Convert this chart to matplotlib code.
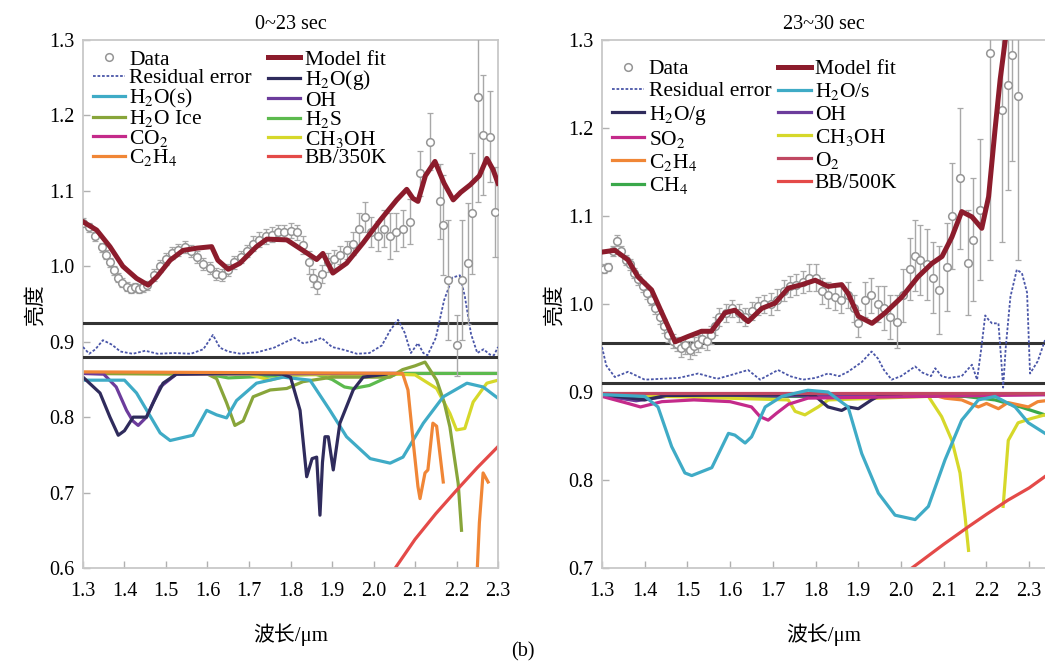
import numpy as np
import matplotlib
matplotlib.use("Agg")
from matplotlib import pyplot as plt

plt.rcParams['font.family'] = ['Liberation Serif', 'Noto Sans CJK SC']
plt.rcParams['mathtext.fontset'] = 'stix'

# ---------------- left panel: 0~23 sec ----------------
data_l_x = [1.300, 1.315, 1.330, 1.345, 1.355, 1.365, 1.375, 1.385, 1.395, 1.405,
            1.415, 1.425, 1.435, 1.445, 1.455, 1.470, 1.485, 1.500, 1.515, 1.530,
            1.545, 1.560, 1.575, 1.590, 1.605, 1.620, 1.635, 1.650, 1.665, 1.680,
            1.695, 1.710, 1.725, 1.740, 1.755, 1.770, 1.785, 1.800, 1.815, 1.830,
            1.845, 1.855, 1.865, 1.875, 1.890, 1.905, 1.920, 1.935, 1.950, 1.965,
            1.980, 1.995, 2.010, 2.025, 2.040, 2.055, 2.072, 2.088, 2.112, 2.136,
            2.160, 2.167, 2.180, 2.200, 2.212, 2.228, 2.237, 2.252, 2.264, 2.281,
            2.293]
data_l_y = [1.058, 1.052, 1.040, 1.025, 1.015, 1.005, 0.995, 0.985, 0.978, 0.973,
            0.970, 0.972, 0.970, 0.972, 0.975, 0.988, 1.000, 1.010, 1.018, 1.022,
            1.025, 1.020, 1.012, 1.003, 0.998, 0.990, 0.988, 0.995, 1.005, 1.012,
            1.020, 1.030, 1.035, 1.040, 1.042, 1.045, 1.045, 1.047, 1.045, 1.028,
            1.005, 0.985, 0.975, 0.990, 1.005, 1.010, 1.015, 1.022, 1.030, 1.050,
            1.065, 1.045, 1.040, 1.050, 1.040, 1.045, 1.050, 1.059, 1.123, 1.165,
            1.086, 1.055, 0.982, 0.895, 0.982, 1.004, 1.070, 1.225, 1.174, 1.172,
            1.072]
data_l_err = [0.006, 0.006, 0.006, 0.006, 0.006, 0.006, 0.006, 0.006, 0.006, 0.006,
              0.006, 0.006, 0.006, 0.006, 0.006, 0.008, 0.008, 0.008, 0.008, 0.008,
              0.008, 0.008, 0.008, 0.008, 0.008, 0.008, 0.008, 0.008, 0.008, 0.008,
              0.008, 0.010, 0.010, 0.010, 0.010, 0.010, 0.010, 0.010, 0.010, 0.012,
              0.015, 0.012, 0.012, 0.012, 0.012, 0.012, 0.012, 0.012, 0.015, 0.020,
              0.020, 0.020, 0.020, 0.025, 0.030, 0.025, 0.025, 0.030, 0.030, 0.038,
              0.050, 0.066, 0.080, 0.040, 0.080, 0.080, 0.080, 0.140, 0.080, 0.060,
              0.060]

fit_l_x = [1.300, 1.333, 1.365, 1.396, 1.429, 1.457, 1.478, 1.510, 1.541, 1.574,
           1.610, 1.625, 1.650, 1.678, 1.718, 1.743, 1.791, 1.830, 1.863, 1.878,
           1.902, 1.935, 1.975, 2.016, 2.056, 2.080, 2.095, 2.107, 2.125, 2.148,
           2.170, 2.192, 2.210, 2.233, 2.255, 2.273, 2.288, 2.300]
fit_l_y = [1.059, 1.048, 1.026, 1.000, 0.984, 0.975, 0.986, 1.008, 1.021, 1.024,
           1.026, 1.008, 0.996, 1.004, 1.026, 1.036, 1.035, 1.021, 1.009, 1.017,
           0.991, 1.004, 1.031, 1.061, 1.088, 1.102, 1.090, 1.086, 1.120, 1.139,
           1.110, 1.088, 1.098, 1.108, 1.120, 1.143, 1.128, 1.110]

resid_l_x = [1.300, 1.315, 1.330, 1.348, 1.370, 1.390, 1.420, 1.450, 1.480, 1.520,
             1.560, 1.590, 1.613, 1.630, 1.650, 1.680, 1.720, 1.760, 1.790, 1.810,
             1.830, 1.850, 1.875, 1.900, 1.930, 1.960, 1.990, 2.020, 2.040, 2.059,
             2.075, 2.090, 2.107, 2.120, 2.130, 2.150, 2.170, 2.190, 2.208, 2.220,
             2.235, 2.250, 2.265, 2.280, 2.290, 2.300]
resid_l_y = [0.893, 0.884, 0.890, 0.902, 0.896, 0.887, 0.884, 0.888, 0.884, 0.885,
             0.884, 0.890, 0.909, 0.892, 0.887, 0.884, 0.886, 0.892, 0.900, 0.905,
             0.898, 0.900, 0.905, 0.893, 0.889, 0.884, 0.885, 0.895, 0.915, 0.929,
             0.912, 0.885, 0.898, 0.885, 0.882, 0.905, 0.955, 0.985, 0.988, 0.960,
             0.910, 0.885, 0.890, 0.883, 0.882, 0.893]
hlines_l = [0.925, 0.880]

h2og_l_x = [1.300, 1.341, 1.365, 1.385, 1.400, 1.421, 1.453, 1.470, 1.493, 1.525,
            1.600, 1.700, 1.780, 1.800, 1.823, 1.839, 1.852, 1.863, 1.871, 1.877,
            1.883, 1.891, 1.903, 1.919, 1.951, 1.975, 2.030]
h2og_l_y = [0.853, 0.832, 0.800, 0.776, 0.782, 0.800, 0.800, 0.820, 0.845, 0.857,
            0.858, 0.858, 0.857, 0.853, 0.809, 0.721, 0.745, 0.747, 0.670, 0.740,
            0.774, 0.774, 0.730, 0.792, 0.836, 0.853, 0.857]
oh_l_x = [1.300, 1.350, 1.380, 1.405, 1.420, 1.433, 1.453, 1.486, 1.525, 2.050]
oh_l_y = [0.858, 0.857, 0.840, 0.809, 0.795, 0.789, 0.800, 0.840, 0.857, 0.858]
h2os_l_x = [1.300, 1.400, 1.429, 1.486, 1.510, 1.565, 1.598, 1.622, 1.646, 1.670,
            1.718, 1.782, 1.847, 1.895, 1.935, 1.992, 2.040, 2.071, 2.120, 2.168,
            2.225, 2.264, 2.300]
h2os_l_y = [0.849, 0.849, 0.832, 0.779, 0.769, 0.776, 0.809, 0.803, 0.799, 0.822,
            0.845, 0.853, 0.849, 0.809, 0.774, 0.745, 0.739, 0.747, 0.792, 0.827,
            0.845, 0.840, 0.825]
ice_l_x = [1.300, 1.600, 1.622, 1.646, 1.666, 1.686, 1.710, 1.751, 1.791, 1.830,
           1.900, 2.040, 2.070, 2.100, 2.124, 2.152, 2.170, 2.184, 2.204, 2.212]
ice_l_y = [0.858, 0.857, 0.851, 0.819, 0.789, 0.795, 0.827, 0.836, 0.838, 0.847,
           0.853, 0.853, 0.863, 0.868, 0.873, 0.849, 0.820, 0.787, 0.712, 0.650]
h2s_l_x = [1.300, 1.600, 1.620, 1.650, 1.860, 1.900, 1.930, 1.951, 1.990, 2.030,
           2.060, 2.300]
h2s_l_y = [0.859, 0.859, 0.855, 0.852, 0.857, 0.850, 0.840, 0.838, 0.842, 0.852,
           0.858, 0.858]
co2_l_x = [1.300, 2.300]
co2_l_y = [0.859, 0.859]
ch3oh_l_x = [1.300, 1.700, 1.750, 1.800, 2.050, 2.100, 2.152, 2.184, 2.200, 2.220,
             2.240, 2.273, 2.300]
ch3oh_l_y = [0.858, 0.857, 0.849, 0.856, 0.857, 0.856, 0.838, 0.805, 0.783, 0.785,
             0.820, 0.845, 0.849]
c2h4_l_x = [1.300, 2.070, 2.083, 2.096, 2.107, 2.112, 2.124, 2.131, 2.143, 2.152,
            2.168, np.nan, 2.246, 2.255, 2.264, 2.276]
c2h4_l_y = [0.860, 0.858, 0.836, 0.765, 0.708, 0.692, 0.726, 0.730, 0.792, 0.788,
            0.714, np.nan, 0.550, 0.660, 0.726, 0.714]
bb_l_x = [2.040, 2.100, 2.150, 2.200, 2.250, 2.300]
bb_l_y = [0.590, 0.638, 0.672, 0.703, 0.733, 0.761]

# ---------------- right panel: 23~30 sec ----------------
data_r_x = [1.305, 1.315, 1.325, 1.335, 1.345, 1.355, 1.365, 1.375, 1.385, 1.395,
            1.405, 1.415, 1.425, 1.435, 1.445, 1.455, 1.465, 1.475, 1.485, 1.495,
            1.505, 1.515, 1.525, 1.535, 1.545, 1.555, 1.565, 1.575, 1.590, 1.605,
            1.620, 1.635, 1.650, 1.665, 1.680, 1.695, 1.710, 1.725, 1.740, 1.755,
            1.770, 1.785, 1.800, 1.815, 1.830, 1.845, 1.860, 1.875, 1.890, 1.900,
            1.915, 1.930, 1.945, 1.960, 1.975, 1.990, 2.005, 2.020, 2.033, 2.045,
            2.060, 2.075, 2.090, 2.107, 2.120, 2.138, 2.157, 2.169, 2.185, 2.209,
            2.236, 2.251, 2.259, 2.274]
data_r_y = [1.040, 1.042, 1.060, 1.072, 1.060, 1.050, 1.045, 1.035, 1.028, 1.020,
            1.012, 1.005, 0.995, 0.985, 0.975, 0.965, 0.958, 0.955, 0.950, 0.953,
            0.948, 0.952, 0.955, 0.960, 0.958, 0.965, 0.975, 0.985, 0.990, 0.995,
            0.990, 0.985, 0.992, 0.998, 1.000, 1.000, 1.005, 1.015, 1.020, 1.022,
            1.025, 1.030, 1.030, 1.015, 1.010, 1.008, 1.005, 1.010, 0.995, 0.978,
            1.005, 1.010, 1.000, 0.995, 0.985, 0.980, 1.010, 1.040, 1.055, 1.050,
            1.045, 1.030, 1.016, 1.042, 1.100, 1.143, 1.047, 1.073, 1.107, 1.285,
            1.220, 1.249, 1.283, 1.236]
data_r_err = [0.005, 0.005, 0.006, 0.006, 0.006, 0.006, 0.006, 0.006, 0.006, 0.006,
              0.006, 0.006, 0.006, 0.008, 0.008, 0.008, 0.008, 0.008, 0.010, 0.010,
              0.010, 0.010, 0.010, 0.010, 0.010, 0.010, 0.010, 0.010, 0.010, 0.010,
              0.010, 0.010, 0.010, 0.010, 0.010, 0.012, 0.012, 0.012, 0.012, 0.012,
              0.012, 0.015, 0.015, 0.015, 0.015, 0.015, 0.015, 0.015, 0.015, 0.015,
              0.020, 0.020, 0.020, 0.025, 0.025, 0.030, 0.030, 0.035, 0.040, 0.040,
              0.040, 0.040, 0.050, 0.050, 0.060, 0.080, 0.060, 0.070, 0.080, 0.235,
              0.150, 0.120, 0.120, 0.186]

fit_r_x = [1.300, 1.330, 1.361, 1.384, 1.416, 1.440, 1.471, 1.501, 1.533, 1.556,
           1.588, 1.611, 1.642, 1.674, 1.705, 1.736, 1.768, 1.799, 1.829, 1.861,
           1.876, 1.900, 1.932, 1.963, 2.002, 2.040, 2.072, 2.096, 2.119, 2.142,
           2.166, 2.189, 2.205, 2.220, 2.232, 2.244, 2.260]
fit_r_y = [1.059, 1.061, 1.050, 1.031, 1.016, 0.990, 0.957, 0.963, 0.969, 0.969,
           0.990, 0.993, 0.980, 0.995, 1.001, 1.018, 1.022, 1.027, 1.020, 1.022,
           1.012, 0.986, 0.978, 0.990, 1.008, 1.031, 1.046, 1.054, 1.076, 1.105,
           1.099, 1.086, 1.122, 1.198, 1.255, 1.300, 1.360]

resid_r_x = [1.300, 1.310, 1.330, 1.361, 1.400, 1.440, 1.480, 1.525, 1.570, 1.600,
             1.642, 1.670, 1.712, 1.740, 1.770, 1.800, 1.829, 1.855, 1.876, 1.908,
             1.931, 1.946, 1.960, 1.978, 2.000, 2.033, 2.050, 2.070, 2.080, 2.095,
             2.111, 2.142, 2.166, 2.178, 2.188, 2.197, 2.205, 2.213, 2.228, 2.234,
             2.239, 2.245, 2.256, 2.271, 2.283, 2.295, 2.302, 2.320, 2.337]
resid_r_y = [0.951, 0.930, 0.917, 0.923, 0.914, 0.915, 0.916, 0.921, 0.915, 0.919,
             0.925, 0.914, 0.925, 0.918, 0.914, 0.916, 0.921, 0.918, 0.923, 0.934,
             0.946, 0.938, 0.925, 0.914, 0.918, 0.929, 0.922, 0.918, 0.927, 0.918,
             0.916, 0.918, 0.931, 0.914, 0.950, 0.987, 0.982, 0.978, 0.978, 0.940,
             0.905, 0.950, 1.008, 1.039, 1.035, 1.013, 0.921, 0.935, 0.959]
hlines_r = [0.956, 0.910]

h2os_r_x = [1.300, 1.400, 1.431, 1.463, 1.494, 1.510, 1.557, 1.596, 1.611, 1.635,
            1.650, 1.682, 1.721, 1.782, 1.829, 1.876, 1.908, 1.947, 1.986, 2.033,
            2.064, 2.103, 2.142, 2.181, 2.220, 2.267, 2.298, 2.337]
h2os_r_y = [0.897, 0.895, 0.883, 0.838, 0.808, 0.805, 0.814, 0.853, 0.851, 0.842,
            0.849, 0.883, 0.895, 0.902, 0.900, 0.883, 0.830, 0.785, 0.760, 0.755,
            0.770, 0.823, 0.868, 0.891, 0.895, 0.883, 0.865, 0.853]
h2og_r_x = [1.300, 1.400, 1.450, 1.780, 1.800, 1.829, 1.861, 1.876, 1.900, 1.931,
            1.946, 2.000]
h2og_r_y = [0.897, 0.891, 0.896, 0.897, 0.895, 0.883, 0.879, 0.883, 0.881, 0.891,
            0.895, 0.897]
oh_r_x = [1.300, 1.380, 1.450, 2.337]
oh_r_y = [0.896, 0.890, 0.895, 0.897]
so2_r_x = [1.300, 1.361, 1.390, 1.440, 1.515, 1.600, 1.650, 1.670, 1.689, 1.709,
           1.736, 1.782, 2.337]
so2_r_y = [0.895, 0.887, 0.883, 0.889, 0.891, 0.889, 0.883, 0.872, 0.868, 0.876,
           0.886, 0.893, 0.897]
ch3oh_r_x = [1.300, 1.736, 1.752, 1.775, 1.806, 1.830, 2.064, 2.095, 2.119, 2.138,
             2.150, 2.158, np.nan, 2.239, 2.251, 2.274, 2.306, 2.337]
ch3oh_r_y = [0.897, 0.891, 0.878, 0.874, 0.883, 0.891, 0.895, 0.872, 0.845, 0.808,
             0.758, 0.720, np.nan, 0.770, 0.845, 0.865, 0.870, 0.874]
c2h4_r_x = [1.300, 2.080, 2.103, 2.142, 2.181, 2.200, 2.228, 2.250, 2.298, 2.320,
            2.337]
c2h4_r_y = [0.897, 0.896, 0.893, 0.891, 0.883, 0.887, 0.881, 0.888, 0.883, 0.889,
            0.890]
o2_r_x = [1.300, 2.337]
o2_r_y = [0.899, 0.899]
ch4_r_x = [1.300, 2.150, 2.220, 2.280, 2.337]
ch4_r_y = [0.895, 0.895, 0.891, 0.883, 0.874]
bb_r_x = [2.020, 2.100, 2.158, 2.200, 2.250, 2.300, 2.340]
bb_r_y = [0.698, 0.727, 0.747, 0.761, 0.777, 0.791, 0.805]

xticks = [1.3, 1.4, 1.5, 1.6, 1.7, 1.8, 1.9, 2.0, 2.1, 2.2, 2.3]

C_FIT = '#8c1c2c'
C_RES = '#4a56a8'
C_H2OG = '#2f2b5c'
C_H2OS = '#3fabc6'
C_OH = '#6c3c9c'
C_ICE = '#88a53a'
C_H2S = '#5cba4e'
C_CO2 = '#c42a8a'
C_CH3OH = '#d6d82a'
C_C2H4 = '#f08636'
C_BB = '#e44a48'
C_CH4 = '#3aa84a'
C_O2 = '#c04862'
LW = 2.3
FS = 14.5


def draw_data(ax, x, y, err, fx, fy, rx, ry, hl):
    '''
        Data points with error bars, model fit, residual and reference lines
    '''
    ax.errorbar(x, y, yerr=err, fmt='none', ecolor='#a8a8a8', elinewidth=1.0,
                capsize=2, capthick=0.9, zorder=5)
    ax.plot(x, y, 'o', mfc='white', mec='#959595', mew=1.1, ms=5.5,
            label='Data', zorder=6)
    ax.plot(fx, fy, color=C_FIT, lw=3.6, label='Model fit', zorder=7)
    ax.plot(rx, ry, color=C_RES, lw=1.3, ls=(0, (1.5, 1)),
            label='Residual error', zorder=4)
    for h in hl:
        ax.axhline(h, color='#333333', lw=2.2, zorder=3)


def style_axes(ax, ylim, yticks, title):
    ax.set_xlim(1.3, 2.3 if ylim[0] < 0.65 else 2.337)
    ax.set_ylim(*ylim)
    ax.set_xticks(xticks)
    ax.set_xticklabels(['%.1f' % t for t in xticks])
    ax.set_yticks(yticks)
    ax.set_yticklabels(['%.1f' % t for t in yticks])
    ax.tick_params(direction='in', length=5, color='#b0b0b0', labelsize=FS,
                   width=1)
    ax.tick_params(axis='x', pad=10)
    ax.tick_params(axis='y', pad=6)
    for s in ax.spines.values():
        s.set_color('#c8c8c8')
        s.set_linewidth(1.3)
    ax.set_title(title, fontsize=FS, pad=8)
    ax.set_xlabel('波长/μm', fontsize=15, labelpad=16)
    ax.set_ylabel('亮度', fontsize=15, labelpad=3)


fig = plt.figure(figsize=(10.45, 6.63), dpi=100)
ax1 = fig.add_axes([0.0794, 0.1433, 0.3972, 0.7964])
ax2 = fig.add_axes([0.5761, 0.1433, 0.4239, 0.7964])

# left components
ax1.plot(co2_l_x, co2_l_y, color=C_CO2, lw=LW, label='CO$_2$')
ax1.plot(h2s_l_x, h2s_l_y, color=C_H2S, lw=LW, label='H$_2$S')
ax1.plot(ch3oh_l_x, ch3oh_l_y, color=C_CH3OH, lw=LW, label='CH$_3$OH')
ax1.plot(ice_l_x, ice_l_y, color=C_ICE, lw=LW, label='H$_2$O Ice')
ax1.plot(oh_l_x, oh_l_y, color=C_OH, lw=LW, label='OH')
ax1.plot(h2os_l_x, h2os_l_y, color=C_H2OS, lw=LW, label='H$_2$O(s)')
ax1.plot(h2og_l_x, h2og_l_y, color=C_H2OG, lw=LW, label='H$_2$O(g)')
ax1.plot(c2h4_l_x, c2h4_l_y, color=C_C2H4, lw=LW, label='C$_2$H$_4$')
ax1.plot(bb_l_x, bb_l_y, color=C_BB, lw=LW, label='BB/350K')
draw_data(ax1, data_l_x, data_l_y, data_l_err, fit_l_x, fit_l_y,
          resid_l_x, resid_l_y, hlines_l)
style_axes(ax1, (0.6, 1.3), [0.6, 0.7, 0.8, 0.9, 1.0, 1.1, 1.2, 1.3], '0~23 sec')

# right components
ax2.plot(ch4_r_x, ch4_r_y, color=C_CH4, lw=LW, label='CH$_4$')
ax2.plot(c2h4_r_x, c2h4_r_y, color=C_C2H4, lw=LW, label='C$_2$H$_4$')
ax2.plot(oh_r_x, oh_r_y, color=C_OH, lw=LW, label='OH')
ax2.plot(ch3oh_r_x, ch3oh_r_y, color=C_CH3OH, lw=LW, label='CH$_3$OH')
ax2.plot(h2og_r_x, h2og_r_y, color=C_H2OG, lw=LW, label='H$_2$O/g')
ax2.plot(so2_r_x, so2_r_y, color=C_CO2, lw=LW, label='SO$_2$')
ax2.plot(o2_r_x, o2_r_y, color=C_O2, lw=LW, label='O$_2$')
ax2.plot(h2os_r_x, h2os_r_y, color=C_H2OS, lw=LW, label='H$_2$O/s')
ax2.plot(bb_r_x, bb_r_y, color=C_BB, lw=LW, label='BB/500K')
draw_data(ax2, data_r_x, data_r_y, data_r_err, fit_r_x, fit_r_y,
          resid_r_x, resid_r_y, hlines_r)
style_axes(ax2, (0.7, 1.3), [0.7, 0.8, 0.9, 1.0, 1.1, 1.2, 1.3], '23~30 sec')
ax2.spines['right'].set_visible(False)

order_l = ['Data', 'Residual error', 'H$_2$O(s)', 'H$_2$O Ice', 'CO$_2$',
           'C$_2$H$_4$', 'Model fit', 'H$_2$O(g)', 'OH', 'H$_2$S', 'CH$_3$OH',
           'BB/350K']
order_r = ['Data', 'Residual error', 'H$_2$O/g', 'SO$_2$', 'C$_2$H$_4$',
           'CH$_4$', 'Model fit', 'H$_2$O/s', 'OH', 'CH$_3$OH', 'O$_2$',
           'BB/500K']
legend_opts = [(ax1, order_l, -0.07, 0.75, 0.25, (0.0, 1.0)),
               (ax2, order_r, 0.1, 0.33, 0.2, (0.003, 0.98))]
for ax, order, lsp, csp, bap, anchor in legend_opts:
    hnd, lab = ax.get_legend_handles_labels()
    lookup = dict(zip(lab, hnd))
    ax.legend([lookup[k] for k in order], order, ncol=2, loc='upper left',
              bbox_to_anchor=anchor, frameon=False, fontsize=15.5,
              handlelength=1.5, handletextpad=0.2, labelspacing=lsp,
              columnspacing=csp, borderaxespad=bap, borderpad=0.2)

fig.text(0.5005, 0.003, '(b)', ha='center', va='bottom', fontsize=FS)
fig.savefig('out.png', dpi=100)
